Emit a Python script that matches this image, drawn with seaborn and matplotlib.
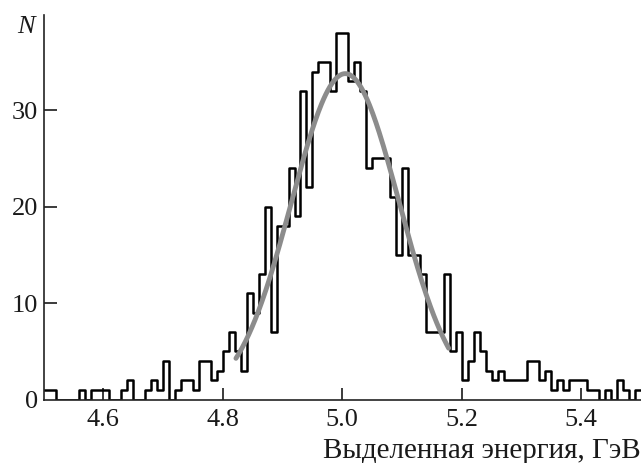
import numpy as np
import pandas as pd
import matplotlib
matplotlib.use("Agg")
import matplotlib.pyplot as plt
import seaborn as sns

# histogram: 100 bins of 0.01 GeV from 4.5 to 5.5
bin_left = 4.5
bin_width = 0.01
counts = [1, 1, 0, 0, 0, 0, 1, 0, 1, 1,
          1, 0, 0, 1, 2, 0, 0, 1, 2, 1,
          4, 0, 1, 2, 2, 1, 4, 4, 2, 3,
          5, 7, 5, 3, 11, 9, 13, 20, 7, 18,
          18, 24, 19, 32, 22, 34, 35, 35, 32, 38,
          38, 33, 35, 32, 24, 25, 25, 25, 21, 15,
          24, 15, 15, 13, 7, 7, 7, 13, 5, 7,
          2, 4, 7, 5, 3, 2, 3, 2, 2, 2,
          2, 4, 4, 2, 3, 1, 2, 1, 2, 2,
          2, 1, 1, 0, 1, 0, 2, 1, 0, 1]

# gaussian fit drawn over the central part
fit_amp = 33.8
fit_mean = 5.005
fit_sigma = 0.09
fit_range = (4.822, 5.178)

x_ticks = [4.6, 4.8, 5.0, 5.2, 5.4]
y_ticks = [0, 10, 20, 30]

nbins = len(counts)
centers = bin_left + bin_width * (np.arange(nbins) + 0.5)
df = pd.DataFrame({"energy": centers, "n": counts})

xf = np.linspace(fit_range[0], fit_range[1], 200)
fit = pd.DataFrame({"energy": xf,
                    "n": fit_amp * np.exp(-(xf - fit_mean) ** 2 / (2 * fit_sigma ** 2))})

sns.set_style("ticks")
plt.rcParams["font.family"] = ["Liberation Serif", "DejaVu Serif"]

fig = plt.figure(figsize=(6.41, 4.63), dpi=100)
ax = fig.add_axes([0.068, 0.137, 0.932, 0.831])

sns.histplot(data=df, x="energy", weights="n", bins=nbins,
             binrange=(bin_left, bin_left + nbins * bin_width), element="step",
             fill=False, color="black", linewidth=1.8, ax=ax)
sns.lineplot(data=fit, x="energy", y="n", color="#8c8c8c", linewidth=3.5, ax=ax)

ax.set_xlim(4.5, 5.5)
ax.set_ylim(0, 39.9)
ax.set_xticks(x_ticks)
ax.set_xticklabels([f"{t:.1f}" for t in x_ticks])
ax.set_yticks(y_ticks)
ax.tick_params(direction="in", length=9, width=1.2, labelsize=19, colors="#1a1a1a")
ax.tick_params(axis="x", pad=7)
ax.tick_params(axis="y", pad=4)
ax.yaxis.get_major_ticks()[0].tick1line.set_visible(False)

for s in ["top", "right"]:
    ax.spines[s].set_visible(False)
for s in ["left", "bottom"]:
    ax.spines[s].set_linewidth(1.2)
    ax.spines[s].set_color("#222222")

ax.set_ylabel("")
ax.set_xlabel("Выделенная энергия, ГэВ", fontsize=21, ha="right", color="#1a1a1a")
ax.xaxis.set_label_coords(1.0, -0.1)
fig.text(0.054, 0.942, "N", fontsize=19, style="italic", ha="right", va="center",
         color="#1a1a1a")

fig.savefig("out.png", dpi=100)
